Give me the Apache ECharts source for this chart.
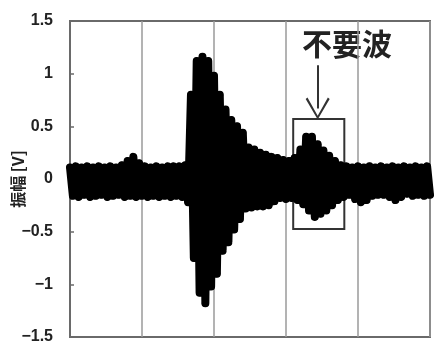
<!DOCTYPE html>
<html>
<head>
<meta charset="utf-8">
<script src="https://cdn.jsdelivr.net/npm/echarts@6/dist/echarts.min.js"></script>
<style>
  html, body { margin: 0; padding: 0; background: #fff; }
  #chart { width: 436px; height: 345px; }
</style>
</head>
<body>
<div id="chart"></div>
<script>
// Received waveform: amplitude [V] sampled every 4 time units from t = 0 to t = 500
const sampleStep = 4;
const amplitude = [
   0.11, -0.16,  0.12, -0.17,  0.11, -0.15,  0.12, -0.17,  0.11, -0.16,
   0.12, -0.15,  0.11, -0.17,  0.12, -0.16,  0.11, -0.15,  0.13, -0.17,
   0.17, -0.16,  0.21, -0.17,  0.15, -0.16,  0.12, -0.17,  0.11, -0.16,
   0.12, -0.17,  0.11, -0.16,  0.12, -0.17,  0.12, -0.16,  0.12, -0.17,
   0.13, -0.22,  0.80, -0.75,  1.12, -1.08,  1.16, -1.18,  1.12, -1.02,
   0.98, -0.90,  0.80, -0.68,  0.66, -0.60,  0.56, -0.48,  0.50, -0.38,
   0.44, -0.28,  0.30, -0.27,  0.28, -0.26,  0.25, -0.26,  0.23, -0.25,
   0.21, -0.21,  0.20, -0.18,  0.18, -0.19,  0.17, -0.18,  0.20, -0.20,
   0.28, -0.24,  0.40, -0.30,  0.40, -0.36,  0.33, -0.33,  0.27, -0.30,
   0.22, -0.25,  0.17, -0.20,  0.13, -0.17,  0.12, -0.15,  0.11, -0.19,
   0.12, -0.22,  0.11, -0.20,  0.12, -0.16,  0.11, -0.15,  0.12, -0.15,
   0.11, -0.17,  0.12, -0.20,  0.11, -0.17,  0.12, -0.14,  0.11, -0.16,
   0.12, -0.15,  0.11, -0.16,  0.12, -0.15
];

// Axis setup
const timeRange = [0, 500];
const timeDivision = 100;
const ampRange = [-1.5, 1.5];
const ampStep = 0.5;
const yName = '振幅 [V]';

// Annotation: box around the spurious echo and the arrow pointing at it
const noteText = '不要波';
const boxTime = [310, 381];
const boxAmp = [-0.475, 0.57];
const arrowTime = 344;
const arrowAmp = [1.08, 0.67];

const waveform = amplitude.map((v, i) => [i * sampleStep, v]);

const chart = echarts.init(document.getElementById('chart'), null, { renderer: 'canvas' });

chart.setOption({
  animation: false,
  backgroundColor: '#ffffff',
  grid: {
    left: 70, right: 6, top: 21, bottom: 8,
    outerBoundsMode: 'none',
    containLabel: false,
    show: true, borderColor: '#6a6a6a', borderWidth: 2, backgroundColor: 'transparent'
  },
  xAxis: {
    type: 'value',
    min: timeRange[0], max: timeRange[1], interval: timeDivision,
    axisLine: { show: true, lineStyle: { color: '#6a6a6a', width: 2 } },
    axisTick: { show: false },
    axisLabel: { show: false },
    splitLine: { show: true, lineStyle: { color: '#9a9a9a', width: 1.5 } }
  },
  yAxis: {
    type: 'value',
    min: ampRange[0], max: ampRange[1], interval: ampStep,
    name: yName,
    nameLocation: 'middle',
    nameRotate: 90,
    nameGap: 44,
    nameMoveOverlap: false,
    nameTextStyle: {
      fontFamily: 'Noto Sans CJK JP', fontSize: 16, fontWeight: 'bold', color: '#222'
    },
    axisLine: { show: true, lineStyle: { color: '#6a6a6a', width: 2 } },
    axisTick: { show: true, inside: true, length: 4, lineStyle: { color: '#6a6a6a', width: 1.5 } },
    axisLabel: {
      margin: 17,
      fontFamily: 'Liberation Sans', fontSize: 16, fontWeight: 'bold', color: '#222',
      formatter: v => String(v).replace('-', '\u2212')
    },
    splitLine: { show: false }
  },
  series: [
    {
      type: 'line',
      data: waveform,
      clip: false,
      sampling: 'none',
      symbol: 'circle',
      symbolSize: 7,
      showAllSymbol: true,
      itemStyle: { color: '#000' },
      lineStyle: { color: '#000', width: 8, join: 'round', cap: 'round' },
      emphasis: { disabled: true },
      z: 3
    },
    {
      type: 'line',
      data: [],
      silent: true,
      markArea: {
        silent: true,
        itemStyle: { color: 'transparent', borderColor: '#333', borderWidth: 2 },
        data: [[{ coord: [boxTime[0], boxAmp[1]] }, { coord: [boxTime[1], boxAmp[0]] }]]
      },
      markLine: {
        silent: true,
        symbol: ['none', 'path://M10,0 L20,14 L18.5,15 L10,2.5 L1.5,15 L0,14 Z'],
        symbolSize: [24, 22],
        lineStyle: { color: '#333', width: 2, type: 'solid' },
        label: { show: false },
        data: [[{ coord: [arrowTime, arrowAmp[0]] }, { coord: [arrowTime, arrowAmp[1]] }]]
      },
      z: 2
    }
  ],
  graphic: [
    {
      type: 'text',
      left: 302, top: 29,
      style: {
        text: noteText,
        fontFamily: 'Noto Sans CJK JP', fontSize: 30, fontWeight: 'bold', fill: '#222'
      }
    }
  ]
});
</script>
</body>
</html>
